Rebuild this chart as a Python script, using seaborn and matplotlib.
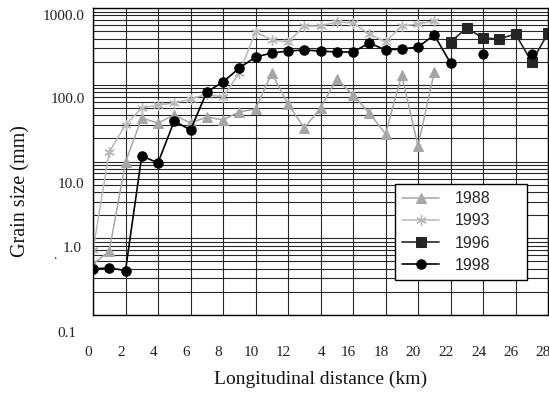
import numpy as np
import pandas as pd
import matplotlib
matplotlib.use("Agg")
import matplotlib.pyplot as plt
import matplotlib.transforms as mtransforms
from matplotlib.ticker import FixedLocator, LogLocator, NullFormatter
import seaborn as sns

# ---------------- data ----------------
dist_a = list(range(0, 22))
grain_1988 = [0.46, 0.68, 9.85, 36.9, 31.7, 40.4, 31.7, 38.0, 34.8, 44.2, 48.3,
              142, 56, 27.3, 49.8, 119, 73.5, 42.9, 22.8, 134, 15.9, 146]
grain_1993 = [0.70, 13.3, 29.9, 49.8, 54.5, 57.8, 65.2, 75.0, 69.2, 142, 487,
              383, 361, 582, 582, 657, 638, 458, 361, 582, 619, 677]
dist_1996 = [22, 23, 24, 25, 26, 27, 28]
grain_1996 = [361, 548, 406, 395, 458, 198, 472]
dist_1998 = list(range(0, 23))
grain_1998 = [0.40, 0.41, 0.38, 11.8, 9.6, 33.7, 25.7, 80.5, 108.6, 165, 230,
              259, 275, 284, 275, 267, 267, 350, 284, 292, 310, 445, 192]
dist_1998_extra = [24, 27]
grain_1998_extra = [252, 252]

series_labels = ["1988", "1993", "1996", "1998"]
x_ticks = list(range(0, 29, 2))
x_tick_labels = ["0", "2", "4", "6", "8", "10", "12", "4", "16", "18", "20",
                 "22", "24", "26", "28"]
y_ticks = [0.1, 1, 10, 100, 1000]
y_tick_labels = ["0.1", "1.0", "10.0", "100.0", "1000.0"]

# ---------------- style ----------------
sns.set_style("white")
plt.rcParams['font.family'] = ['Liberation Serif', 'DejaVu Serif']

W, H = 549, 395
fig = plt.figure(figsize=(W / 100, H / 100), dpi=100)
ax = fig.add_axes([93 / W, 1 - 315 / H, 455 / W, 307 / H])

c88, c93, c96, c98 = '#a6a6a6', '#b8b8b8', '#262626', '#000000'

sns.lineplot(x=dist_a, y=grain_1988, ax=ax, color=c88, lw=1.1, marker='^',
             markersize=6.5, markeredgecolor=c88, markerfacecolor=c88,
             label=series_labels[0])
sns.lineplot(x=dist_a, y=grain_1993, ax=ax, color=c93, lw=1.1, marker=(6, 2, 0),
             markersize=7.5, markeredgecolor=c93, markeredgewidth=1.0,
             label=series_labels[1])
sns.lineplot(x=dist_1996, y=grain_1996, ax=ax, color=c96, lw=1.2, marker='s',
             markersize=6.5, markeredgecolor=c96, markerfacecolor=c96,
             label=series_labels[2])
sns.lineplot(x=dist_1998, y=grain_1998, ax=ax, color=c98, lw=1.2, marker='o',
             markersize=6.8, markeredgecolor=c98, markerfacecolor=c98,
             label=series_labels[3])
sns.scatterplot(x=dist_1998_extra, y=grain_1998_extra, ax=ax, color=c98,
                marker='o', s=46, edgecolor=c98, linewidth=0.5,
                label='_nolegend_', zorder=3)

ax.set_yscale('log')
ax.set_ylim(0.1, 1000)
ax.set_xlim(0, 28)

ax.xaxis.set_major_locator(FixedLocator(x_ticks))
ax.set_xticklabels(x_tick_labels)
ax.yaxis.set_major_locator(FixedLocator(y_ticks))
ax.set_yticklabels(y_tick_labels)
ax.yaxis.set_minor_locator(LogLocator(base=10, subs=np.arange(2, 10)))
ax.yaxis.set_minor_formatter(NullFormatter())

ax.grid(True, which='both', axis='y', color='#262626', lw=0.8)
ax.grid(True, which='major', axis='x', color='#262626', lw=0.8)
ax.set_axisbelow(True)

ax.tick_params(axis='both', which='both', length=0)
ax.tick_params(axis='x', labelsize=11, pad=22.5, colors='#222222')
ax.tick_params(axis='y', labelsize=11, pad=6, colors='#222222')

for sp in ax.spines.values():
    sp.set_color('black')
    sp.set_linewidth(1.0)

# label offsets (pixels) mimicking the scanned figure
x_dx = [-4.5] * len(x_ticks)
x_dx[7] = 1.5
for tick, dx in zip(ax.xaxis.get_major_ticks(), x_dx):
    lab = tick.label1
    lab.set_transform(lab.get_transform() +
                      mtransforms.ScaledTranslation(dx / 100, 0, fig.dpi_scale_trans))
y_off = {0.1: (-8, -17), 1: (-3, -9), 10: (0, -21.5), 100: (0, -13), 1000: (0, -7)}
for tick, val in zip(ax.yaxis.get_major_ticks(), y_ticks):
    dx, dy = y_off[val]
    lab = tick.label1
    lab.set_transform(lab.get_transform() +
                      mtransforms.ScaledTranslation(dx / 100, dy / 100, fig.dpi_scale_trans))

ax.set_xlabel("Longitudinal distance (km)", fontsize=14, color='#111111')
ax.xaxis.set_label_coords(0.5, -0.18)
ax.set_ylabel("Grain size (mm)", fontsize=14.5, color='#111111')
ax.yaxis.set_label_coords(-0.137, 0.405)

fig.text(55 / W, 1 - 259 / H, ".", fontsize=10, ha='center', va='baseline')

leg = ax.legend(loc='upper left', bbox_to_anchor=(0.664, 0.4267 - 0.322, 0.290, 0.322),
                mode='expand', borderaxespad=0, frameon=True, fancybox=False,
                edgecolor='black', framealpha=1,
                prop={'family': 'Liberation Sans', 'size': 11.5},
                handlelength=2.3, handletextpad=1.0, labelspacing=0.45,
                borderpad=0.45)
leg.get_frame().set_linewidth(1.0)

fig.savefig("out.png", dpi=100)
